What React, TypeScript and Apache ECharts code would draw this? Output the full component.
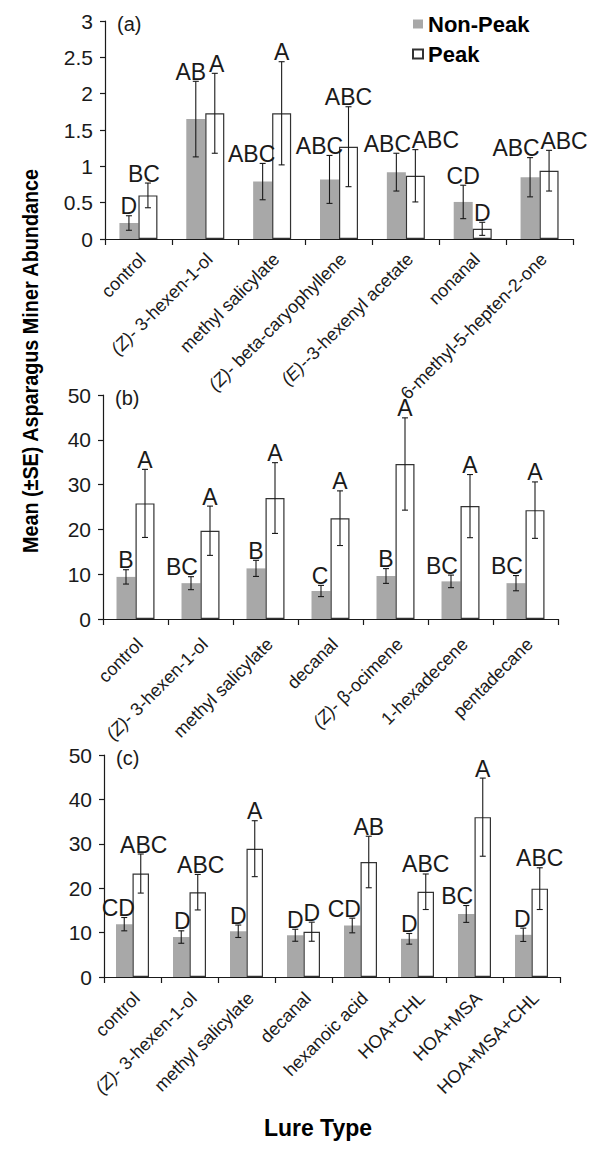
import React, { useEffect, useRef } from "react";
import * as echarts from "echarts";

// ---------- Panel (a) ----------
const catsA = [
  "control",
  "(Z)- 3-hexen-1-ol",
  "methyl salicylate",
  "(Z)- beta-caryophyllene",
  "(E)--3-hexenyl acetate",
  "nonanal",
  "6-methyl-5-hepten-2-one",
];
const nonPeakA = [0.22, 1.65, 0.79, 0.82, 0.92, 0.51, 0.85];
const nonPeakSeA = [0.1, 0.52, 0.25, 0.33, 0.26, 0.23, 0.27];
const peakA = [0.6, 1.73, 1.73, 1.27, 0.87, 0.14, 0.94];
const peakSeA = [0.17, 0.55, 0.71, 0.55, 0.36, 0.09, 0.28];
const nonPeakLetA = ["D", "AB", "ABC", "ABC", "ABC", "CD", "ABC"];
const peakLetA = ["BC", "A", "A", "ABC", "ABC", "D", "ABC"];
const yTicksA = [0, 0.5, 1, 1.5, 2, 2.5, 3];

// ---------- Panel (b) ----------
const catsB = [
  "control",
  "(Z)- 3-hexen-1-ol",
  "methyl salicylate",
  "decanal",
  "(Z)- β-ocimene",
  "1-hexadecene",
  "pentadecane",
];
const nonPeakB = [9.4, 8.0, 11.3, 6.25, 9.6, 8.4, 8.0];
const nonPeakSeB = [1.6, 1.45, 1.8, 1.25, 1.65, 1.4, 1.7];
const peakB = [25.8, 19.7, 27.0, 22.5, 34.6, 25.2, 24.3];
const peakSeB = [7.6, 5.5, 7.9, 6.1, 10.3, 7.05, 6.3];
const nonPeakLetB = ["B", "BC", "B", "C", "B", "BC", "BC"];
const peakLetB = ["A", "A", "A", "A", "A", "A", "A"];
const yTicksB = [0, 10, 20, 30, 40, 50];

// ---------- Panel (c) ----------
const catsC = [
  "control",
  "(Z)- 3-hexen-1-ol",
  "methyl salicylate",
  "decanal",
  "hexanoic acid",
  "HOA+CHL",
  "HOA+MSA",
  "HOA+MSA+CHL",
];
const nonPeakC = [11.9, 9.0, 10.3, 9.4, 11.6, 8.6, 14.2, 9.5];
const nonPeakSeC = [1.5, 1.4, 1.4, 1.35, 1.65, 1.2, 1.9, 1.5];
const peakC = [23.3, 19.1, 28.9, 10.2, 25.9, 19.2, 36.0, 19.9];
const peakSeC = [4.4, 4.0, 6.3, 2.15, 5.8, 4.0, 8.8, 4.7];
const nonPeakLetC = ["CD", "D", "D", "D", "CD", "D", "BC", "D"];
const peakLetC = ["ABC", "ABC", "A", "D", "AB", "ABC", "A", "ABC"];
const yTicksC = [0, 10, 20, 30, 40, 50];

// horizontal nudges of the letter labels (layout only, px)
const nudgeNpA = [0, -5, -11, -10, -9, 0, -14];
const nudgePkA = [-4, 2, 0, 0, 20, 0, 15];
const nudgeNpB = [0, -9, 0, -1, 0, -9, -9];
const nudgePkB = [0, 0, 0, 0, 0, 0, 0];
const nudgeNpC = [-6, 1, 0, 0, -8, 0, -9, -1];
const nudgePkC = [3, 3, 0, 0, 0, 0, 0, 0];

const FONT = '"Liberation Sans", Arial, sans-serif';
const INK = "#1a1a1a";
const GRAY = "#a8a8a8";

type Panel = {
  cats: string[];
  np: number[];
  npSe: number[];
  pk: number[];
  pkSe: number[];
  npLet: string[];
  pkLet: string[];
  npNudge: number[];
  pkNudge: number[];
  ticks: number[];
  grid: { left: number; top: number; width: number; height: number };
  barWidth: number;
  labelMargin: number;
  tag: string;
};

const panels: Panel[] = [
  {
    cats: catsA, np: nonPeakA, npSe: nonPeakSeA, pk: peakA, pkSe: peakSeA,
    npLet: nonPeakLetA, pkLet: peakLetA, npNudge: nudgeNpA, pkNudge: nudgePkA, ticks: yTicksA,
    grid: { left: 105, top: 21, width: 468, height: 218 },
    barWidth: 19, labelMargin: 13, tag: "(a)",
  },
  {
    cats: catsB, np: nonPeakB, npSe: nonPeakSeB, pk: peakB, pkSe: peakSeB,
    npLet: nonPeakLetB, pkLet: peakLetB, npNudge: nudgeNpB, pkNudge: nudgePkB, ticks: yTicksB,
    grid: { left: 103, top: 395, width: 455, height: 224 },
    barWidth: 19, labelMargin: 18, tag: "(b)",
  },
  {
    cats: catsC, np: nonPeakC, npSe: nonPeakSeC, pk: peakC, pkSe: peakSeC,
    npLet: nonPeakLetC, pkLet: peakLetC, npNudge: nudgeNpC, pkNudge: nudgePkC, ticks: yTicksC,
    grid: { left: 104, top: 755, width: 456, height: 222 },
    barWidth: 16.5, labelMargin: 14, tag: "(c)",
  },
];

function errSeries(p: Panel, idx: number, vals: number[], ses: number[], lets: string[], nudge: number[], side: number) {
  return {
    type: "custom",
    xAxisIndex: idx,
    yAxisIndex: idx,
    z: 5,
    clip: false,
    silent: true,
    data: vals.map((v, i) => [i, v, ses[i]]),
    renderItem: (params: any, api: any) => {
      const i = api.value(0);
      const m = api.value(1);
      const se = api.value(2);
      const c = api.coord([i, m]);
      const x = c[0] + (side * p.barWidth) / 2;
      const yt = api.coord([i, m + se])[1];
      const yb = api.coord([i, Math.max(0, m - se)])[1];
      const cap = 3;
      const ls = { stroke: INK, lineWidth: 1.1 };
      return {
        type: "group",
        children: [
          { type: "line", shape: { x1: x, y1: yt, x2: x, y2: yb }, style: ls },
          { type: "line", shape: { x1: x - cap, y1: yt, x2: x + cap, y2: yt }, style: ls },
          { type: "line", shape: { x1: x - cap, y1: yb, x2: x + cap, y2: yb }, style: ls },
          {
            type: "text",
            x: x + nudge[params.dataIndex],
            y: yt + 2,
            style: {
              text: lets[params.dataIndex],
              fill: INK,
              font: `23px ${FONT}`,
              textAlign: "center",
              textVerticalAlign: "bottom",
              align: "center",
              verticalAlign: "bottom",
            },
          },
        ],
      };
    },
  };
}

export default function App() {
  const ref = useRef<HTMLDivElement>(null);
  useEffect(() => {
    if (!ref.current) return;
    const chart = echarts.init(ref.current, undefined, { renderer: "svg" });
    const grids: any[] = [];
    const xAxes: any[] = [];
    const yAxes: any[] = [];
    const series: any[] = [];
    const graphics: any[] = [];
    panels.forEach((p, idx) => {
      grids.push({ ...p.grid, containLabel: false });
      xAxes.push({
        type: "category",
        gridIndex: idx,
        data: p.cats,
        axisLine: { lineStyle: { color: INK, width: 1.2 } },
        axisTick: { show: true, length: 6, lineStyle: { color: INK, width: 1.2 } },
        axisLabel: {
          interval: 0,
          rotate: 45,
          margin: p.labelMargin,
          padding: [12, 0, 0, 0],
          color: INK,
          fontSize: 18,
          fontFamily: FONT,
          hideOverlap: false,
          formatter: (v: string) => v.replace(/^\((Z|E)\)/, (mm) => `{i|${mm}}`),
          rich: {
            i: { fontStyle: "italic", fontSize: 18, fontFamily: FONT, color: INK },
          },
        },
        splitLine: { show: false },
      });
      yAxes.push({
        type: "value",
        gridIndex: idx,
        min: p.ticks[0],
        max: p.ticks[p.ticks.length - 1],
        interval: p.ticks[1] - p.ticks[0],
        axisLine: { show: true, lineStyle: { color: INK, width: 1.2 } },
        axisTick: { show: true, length: 5, lineStyle: { color: INK, width: 1.2 } },
        axisLabel: { color: INK, fontSize: 21, fontFamily: FONT, margin: 12 },
        splitLine: { show: false },
      });
      series.push({
        name: "Non-Peak",
        type: "bar",
        xAxisIndex: idx,
        yAxisIndex: idx,
        data: p.np,
        barWidth: p.barWidth,
        barGap: "0%",
        itemStyle: { color: GRAY },
      });
      series.push({
        name: "Peak",
        type: "bar",
        xAxisIndex: idx,
        yAxisIndex: idx,
        data: p.pk,
        barWidth: p.barWidth,
        barGap: "0%",
        itemStyle: { color: "#ffffff", borderColor: "#333333", borderWidth: 1.2 },
      });
      series.push(errSeries(p, idx, p.np, p.npSe, p.npLet, p.npNudge, -1));
      series.push(errSeries(p, idx, p.pk, p.pkSe, p.pkLet, p.pkNudge, 1));
      graphics.push({
        type: "text",
        left: p.grid.left + 12,
        top: p.grid.top - 7,
        style: { text: p.tag, font: `20px ${FONT}`, fill: INK },
      });
    });

    graphics.push({
      type: "text",
      x: 30,
      y: 361,
      rotation: Math.PI / 2,
      scaleX: 0.9,
      style: {
        text: "Mean (±SE) Asparagus Miner Abundance",
        font: `bold 22px ${FONT}`,
        fill: "#000",
        textAlign: "center",
        textVerticalAlign: "middle",
        align: "center",
        verticalAlign: "middle",
      },
    });
    graphics.push({
      type: "text",
      x: 318,
      y: 1128,
      style: {
        text: "Lure Type",
        font: `bold 23px ${FONT}`,
        fill: "#000",
        textAlign: "center",
        textVerticalAlign: "middle",
        align: "center",
        verticalAlign: "middle",
      },
    });

    chart.setOption({
      animation: false,
      backgroundColor: "#ffffff",
      grid: grids,
      xAxis: xAxes,
      yAxis: yAxes,
      series,
      graphic: graphics,
      legend: {
        data: ["Non-Peak", "Peak"],
        orient: "vertical",
        left: 407,
        top: 8,
        itemWidth: 10,
        itemHeight: 9,
        itemGap: 8,
        icon: "rect",
        textStyle: { fontSize: 22, fontWeight: "bold", fontFamily: FONT, color: "#000" },
      },
    });
    return () => chart.dispose();
  }, []);
  return (
    <div
      ref={ref}
      style={{ position: "absolute", left: 0, top: 0, width: 595, height: 1149, background: "#fff" }}
    />
  );
}
